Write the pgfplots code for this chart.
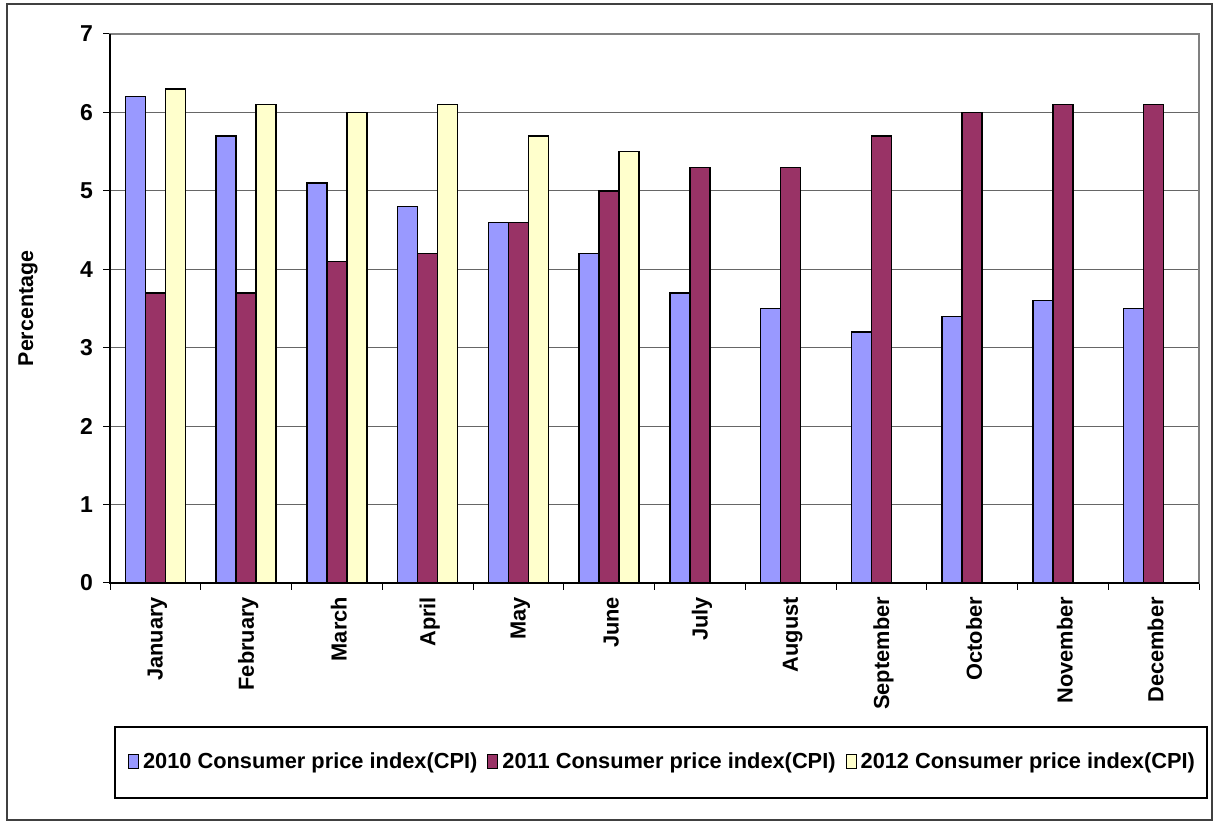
\documentclass[border=0pt]{standalone}
\usepackage{fontspec}
\setmainfont{Liberation Sans}
\usepackage{pgfplots}
\pgfplotsset{compat=1.18}
\definecolor{c2010}{HTML}{9999FF}
\definecolor{c2011}{HTML}{993366}
\definecolor{c2012}{HTML}{FFFFCC}
\pgfplotsset{legendbox/.style={legend image code/.code={\draw[##1,line width=0.5pt] (0pt,-3.2pt) rectangle (5pt,3.6pt);}}}
\begin{document}
\begin{tikzpicture}
\useasboundingbox (0,0) rectangle (607pt,411.5pt);
\draw[line width=0.8pt, black!75] (3.5pt,1.5pt) rectangle (606pt,409.5pt);
\draw[line width=0.6pt, black] (57.5pt,12.5pt) rectangle (603.5pt,48pt);
\begin{axis}[
  at={(55pt,120pt)}, anchor=south west, scale only axis,
  width=544.5pt, height=274.5pt,
  ybar=0pt, bar width=10pt,
  xmin=0.5, xmax=12.5, ymin=0, ymax=7,
  xtick={1,...,12},
  xticklabels={January,February,March,April,May,June,July,August,September,October,November,December},
  minor xtick={0.5,1.5,...,12.5},
  ytick={0,...,7},
  tick align=outside, tick pos=left,
  major tick length=3.5pt, minor tick length=3.5pt,
  tick style={black, line width=0.5pt},
  major x tick style={draw=none},
  ymajorgrids,
  grid style={black!60, line width=0.6pt},
  axis line style={black!50, line width=0.6pt},
  /pgf/number format/assume math mode=true,
  xticklabel style={rotate=90, anchor=east, yshift=-1pt, font=\fontsize{10.9}{12}\selectfont\bfseries},
  yticklabel style={xshift=-1.5pt, font=\fontsize{11.5}{12}\selectfont\bfseries},
  ylabel={Percentage},
  ylabel style={at={(axis description cs:-0.0753,0.5)}, anchor=center, font=\fontsize{10.7}{12}\selectfont\bfseries},
  legend style={at={(axis description cs:0.5083,-0.326)}, anchor=center, draw=none, fill=none,
    font=\fontsize{10.9}{12}\selectfont\bfseries,
    /tikz/every even column/.append style={column sep=3pt}},
  legend columns=3,
  legend cell align=left,
  after end axis/.code={\draw[black, line width=0.6pt] (rel axis cs:0,1) -- (rel axis cs:0,0) -- (rel axis cs:1,0);},
]
\addplot[fill=c2010, draw=black, line width=0.7pt, legendbox] coordinates {
(1,6.2) (2,5.7) (3,5.1) (4,4.8) (5,4.6) (6,4.2) (7,3.7) (8,3.5) (9,3.2) (10,3.4) (11,3.6) (12,3.5)};
\addplot[fill=c2011, draw=black, line width=0.7pt, legendbox] coordinates {
(1,3.7) (2,3.7) (3,4.1) (4,4.2) (5,4.6) (6,5.0) (7,5.3) (8,5.3) (9,5.7) (10,6.0) (11,6.1) (12,6.1)};
\addplot[fill=c2012, draw=black, line width=0.7pt, legendbox] coordinates {
(1,6.3) (2,6.1) (3,6.0) (4,6.1) (5,5.7) (6,5.5)};
\legend{2010 Consumer price index(CPI),2011 Consumer price index(CPI),2012 Consumer price index(CPI)}
\end{axis}
\end{tikzpicture}
\end{document}
